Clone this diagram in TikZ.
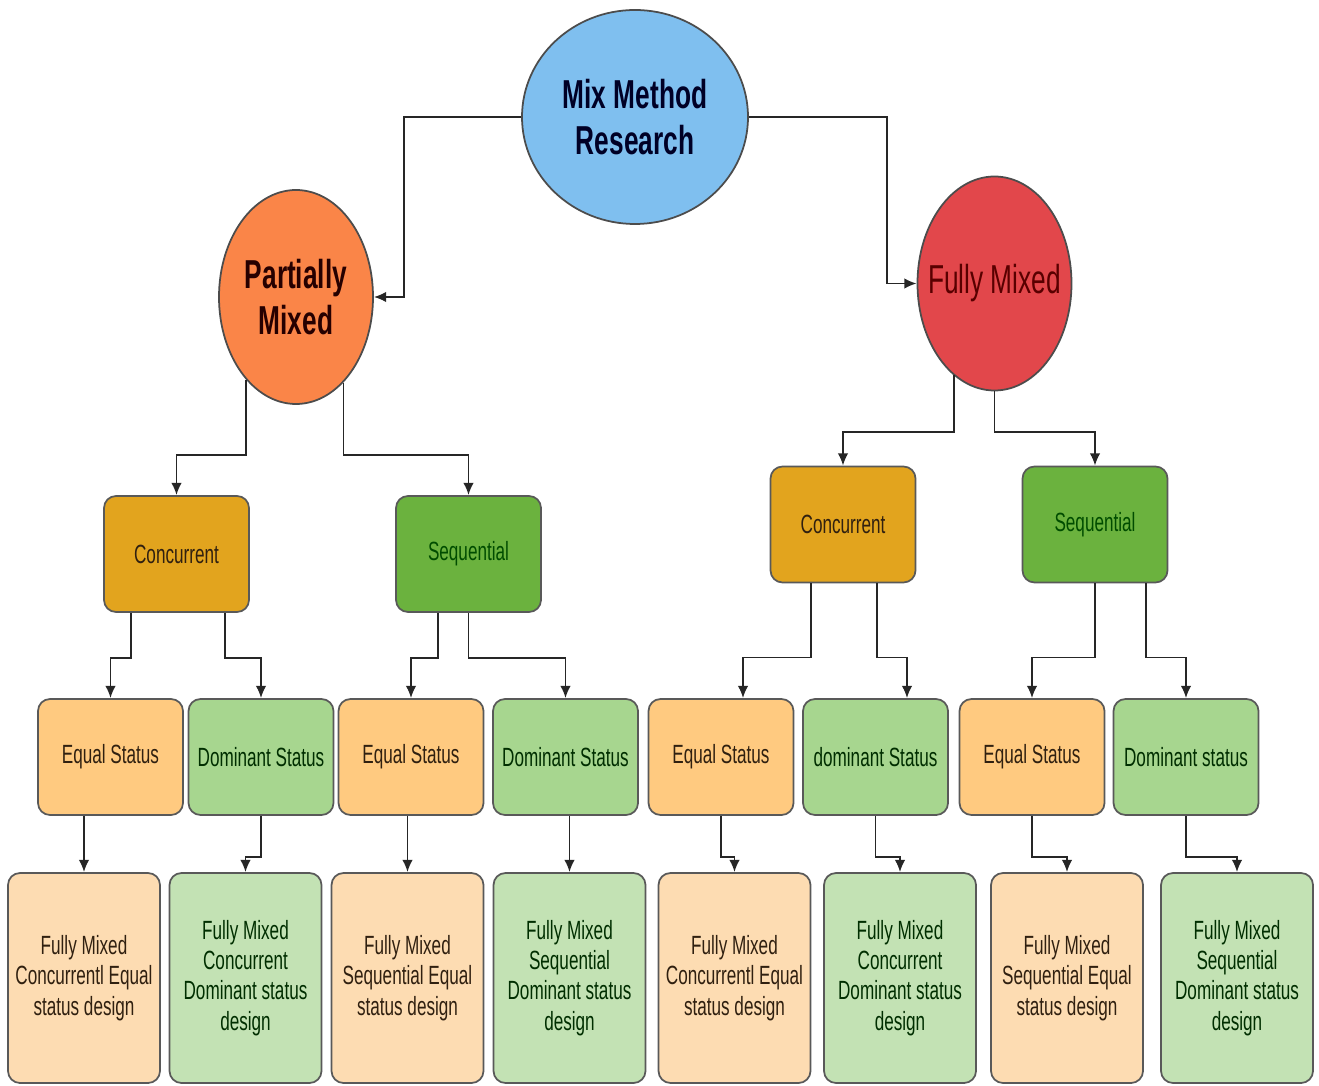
\documentclass[tikz,border=0pt]{standalone}
\usepackage{fontspec}
\setmainfont{Liberation Sans}[FakeStretch=0.65]
\usetikzlibrary{shapes.geometric,arrows.meta}

\definecolor{mmrblue}{HTML}{7FBFEF}
\definecolor{pmorange}{HTML}{FA8548}
\definecolor{fmred}{HTML}{E2474B}
\definecolor{concgold}{HTML}{E2A41E}
\definecolor{seqgreen}{HTML}{6BB23E}
\definecolor{eqorange}{HTML}{FFCA80}
\definecolor{domgreen}{HTML}{A7D68F}
\definecolor{eqpale}{HTML}{FDDCB2}
\definecolor{dompale}{HTML}{C3E2B4}

\begin{document}
\begin{tikzpicture}[
    arr/.style={-{Latex[length=3.5pt,width=3pt]},line width=0.5pt,black!85},
    oval/.style={ellipse,draw=black!70,line width=0.5pt,inner sep=0pt,align=center,
        minimum width=1.54cm,minimum height=2.14cm,font=\fontsize{11.5}{13.2}\selectfont},
    box/.style={rectangle,rounded corners=1.2mm,draw=black!65,line width=0.5pt,align=center,
        minimum width=1.45cm,minimum height=1.16cm,inner sep=0pt,font=\fontsize{7.5}{8.6}\selectfont},
    tall/.style={box,minimum width=1.52cm,minimum height=2.1cm},
    eq/.style={box,fill=eqorange,text=black!75!brown},
    dom/.style={box,fill=domgreen,text=black!70!green!60!black},
    eqlow/.style={tall,fill=eqpale,text=black!75!brown},
    domlow/.style={tall,fill=dompale,text=black!70!green!60!black},
]
\useasboundingbox (0,0) rectangle (13.19,-10.86);

% 顶层
\node[oval,fill=mmrblue,minimum width=2.26cm,text=black!85!blue,
    font=\bfseries\fontsize{11.5}{13.2}\selectfont] (mmr) at (6.35,-1.17) {Mix Method\\Research};
\node[oval,fill=pmorange,text=black!85!red,
    font=\bfseries\fontsize{11.5}{13.2}\selectfont] (pm) at (2.96,-2.97) {Partially\\Mixed};
\node[oval,fill=fmred,text=black!65!red,inner xsep=-1.3mm] (fm) at (9.945,-2.835) {Fully Mixed};

% 第二层
\node[box,fill=concgold,text=black!75!brown] (concL) at (1.765,-5.54) {Concurrent};
\node[box,fill=seqgreen,text=black!70!green] (seqL) at (4.685,-5.54) {Sequential};
\node[box,fill=concgold,text=black!75!brown] (concR) at (8.43,-5.245) {Concurrent};
\node[box,fill=seqgreen,text=black!70!green] (seqR) at (10.95,-5.245) {Sequential};

% 第三层
\node[eq] (eqA) at (1.105,-7.57) {Equal Status};
\node[dom] (domA) at (2.61,-7.57) {Dominant Status};
\node[eq] (eqB) at (4.11,-7.57) {Equal Status};
\node[dom] (domB) at (5.655,-7.57) {Dominant Status};
\node[eq] (eqC) at (7.21,-7.57) {Equal Status};
\node[dom] (domC) at (8.755,-7.57) {dominant Status};
\node[eq] (eqD) at (10.32,-7.57) {Equal Status};
\node[dom] (domD) at (11.86,-7.57) {Dominant status};

% 底层
\node[eqlow] (botA) at (0.84,-9.78) {Fully Mixed\\Concurrentl Equal\\status design};
\node[domlow] (botB) at (2.455,-9.78) {Fully Mixed\\Concurrent\\Dominant status\\design};
\node[eqlow] (botC) at (4.075,-9.78) {Fully Mixed\\Sequential Equal\\status design};
\node[domlow] (botD) at (5.695,-9.78) {Fully Mixed\\Sequential\\Dominant status\\design};
\node[eqlow] (botE) at (7.345,-9.78) {Fully Mixed\\Concurrentl Equal\\status design};
\node[domlow] (botF) at (9.0,-9.78) {Fully Mixed\\Concurrent\\Dominant status\\design};
\node[eqlow] (botG) at (10.67,-9.78) {Fully Mixed\\Sequential Equal\\status design};
\node[domlow] (botH) at (12.37,-9.78) {Fully Mixed\\Sequential\\Dominant status\\design};

% 折线位置
\coordinate (jl) at (4.04,0);
\coordinate (jr) at (8.87,0);
\coordinate (lvA) at (0,-4.55);
\coordinate (lvB) at (0,-4.32);
\coordinate (lvD) at (0,-8.57);

% 连线
\draw[arr] (mmr.west) -- (mmr.west -| jl) |- (pm.east);
\draw[arr] (mmr.east) -- (mmr.east -| jr) |- (fm.west);

\draw[arr] (pm.-121.4) -- (pm.-121.4 |- lvA) -| (concL.north);
\draw[arr] (pm.-61.1) -- (pm.-61.1 |- lvA) -| (seqL.north);
\draw[arr] (fm.-114.2) -- (fm.-114.2 |- lvB) -| (concR.north);
\draw[arr] (fm.south) -- (fm.south |- lvB) -| (seqR.north);

\draw[arr] ([xshift=-4.55mm]concL.south) -- ++(0,-0.45) -| (eqA.north);
\draw[arr] ([xshift=4.85mm]concL.south) -- ++(0,-0.45) -| (domA.north);
\draw[arr] ([xshift=-3.05mm]seqL.south) -- ++(0,-0.45) -| (eqB.north);
\draw[arr] (seqL.south) -- ++(0,-0.45) -| (domB.north);
\draw[arr] ([xshift=-3.2mm]concR.south) -- ++(0,-0.74) -| ([xshift=2.2mm]eqC.north);
\draw[arr] ([xshift=3.4mm]concR.south) -- ++(0,-0.74) -| ([xshift=3.15mm]domC.north);
\draw[arr] (seqR.south) -- ++(0,-0.74) -| (eqD.north);
\draw[arr] ([xshift=5.1mm]seqR.south) -- ++(0,-0.74) -| (domD.north);

\draw[arr] (eqA.south -| botA.north) -- (botA.north);
\draw[arr] (domA.south) -- (domA.south |- lvD) -| (botB.north);
\draw[arr] (eqB.south -| botC.north) -- (botC.north);
\draw[arr] (domB.south -| botD.north) -- (botD.north);
\draw[arr] (eqC.south) -- (eqC.south |- lvD) -| (botE.north);
\draw[arr] (domC.south) -- (domC.south |- lvD) -| (botF.north);
\draw[arr] (eqD.south) -- (eqD.south |- lvD) -| (botG.north);
\draw[arr] (domD.south) -- (domD.south |- lvD) -| (botH.north);
\end{tikzpicture}
\end{document}
